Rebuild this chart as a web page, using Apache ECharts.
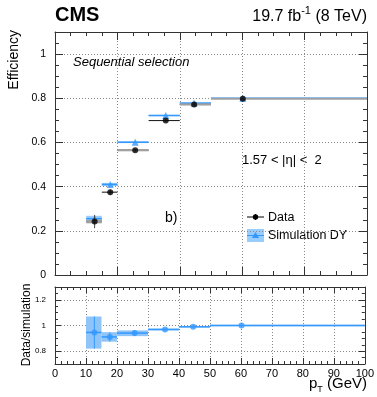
<!DOCTYPE html>
<html><head><meta charset="utf-8">
<script src="https://cdn.jsdelivr.net/npm/echarts@6/dist/echarts.min.js"></script>
<style>html,body{margin:0;padding:0;background:#fff}#c{width:377px;height:397px}</style>
</head><body><div id="c"></div>
<script>
// ---- data ----
const binLo = [10, 15, 20, 30, 40, 50];
const binHi = [15, 20, 30, 40, 50, 100];
const ptX = [12.7, 17.7, 25.7, 35.5, 44.6, 60.2];
const dataEff = [0.242, 0.375, 0.565, 0.699, 0.772, 0.798];
const dataErr = [0.03, 0.012, 0.006, 0.005, 0.004, 0.003];
const dataBand = [0.008, 0, 0.005, 0, 0.005, 0.004];
const simEff = [0.255, 0.410, 0.601, 0.722, 0.778, 0.800];
const simBand = [0.013, 0.007, 0.004, 0.003, 0.003, 0.002];
const ratio = [0.946, 0.911, 0.941, 0.969, 0.990, 1.000];
const ratioLo = [0.820, 0.874, 0.917, 0.962, 0.984, 0.994];
const ratioHi = [1.070, 0.948, 0.962, 0.976, 0.996, 1.006];
const ratioTicks = [0.8, 1.0, 1.2];

const FONT = '"Liberation Sans", Arial, Helvetica, sans-serif';
const BLUE = '#3399ff';
const LIGHT = '#99ccff';
const RATIO_BAND = '#8ec4f8';
const AX = '#333';
const GRIDC = '#888';

function rectSeries(rows, xi, yi, color, z) {
  return {
    type: 'custom', xAxisIndex: xi, yAxisIndex: yi, z: z, silent: true,
    encode: { x: [0, 1], y: [2, 3] }, data: rows,
    renderItem: function (params, api) {
      const p1 = api.coord([api.value(0), api.value(3)]);
      const p2 = api.coord([api.value(1), api.value(2)]);
      return { type: 'rect', shape: { x: p1[0], y: p1[1], width: p2[0] - p1[0], height: Math.max(p2[1] - p1[1], 0) },
        style: { fill: color } };
    }
  };
}
function segSeries(rows, xi, yi, color, width, z) {
  return {
    type: 'custom', xAxisIndex: xi, yAxisIndex: yi, z: z, silent: true,
    encode: { x: [0, 2], y: [1, 3] }, data: rows,
    renderItem: function (params, api) {
      const p1 = api.coord([api.value(0), api.value(1)]);
      const p2 = api.coord([api.value(2), api.value(3)]);
      return { type: 'line', shape: { x1: p1[0], y1: p1[1], x2: p2[0], y2: p2[1] },
        style: { stroke: color, lineWidth: width } };
    }
  };
}

const idx = binLo.map((_, i) => i);
const series = [
  // top panel: simulation first, data on top
  rectSeries(idx.map(i => [binLo[i], binHi[i], simEff[i] - simBand[i], simEff[i] + simBand[i]]), 0, 0, LIGHT, 2),
  segSeries(idx.map(i => [binLo[i], simEff[i], binHi[i], simEff[i]]), 0, 0, BLUE, 1.5, 3),
  { type: 'scatter', xAxisIndex: 0, yAxisIndex: 0, z: 4, silent: true, symbol: 'triangle', symbolSize: 7,
    itemStyle: { color: BLUE }, data: idx.map(i => [ptX[i], simEff[i]]) },
  segSeries(idx.map(i => [binLo[i], dataEff[i], binHi[i], dataEff[i]]), 0, 0, '#111', 1, 5),
  rectSeries(idx.map(i => [binLo[i], binHi[i], dataEff[i] - dataBand[i], dataEff[i] + dataBand[i]]), 0, 0, '#a0a0a0', 6),
  segSeries(idx.map(i => [ptX[i], dataEff[i] - dataErr[i], ptX[i], dataEff[i] + dataErr[i]]), 0, 0, '#444', 1, 7),
  { type: 'scatter', xAxisIndex: 0, yAxisIndex: 0, z: 8, silent: true, symbol: 'circle', symbolSize: 6,
    itemStyle: { color: '#000' }, data: idx.map(i => [ptX[i], dataEff[i]]) },
  // ratio panel
  rectSeries(idx.map(i => [binLo[i], binHi[i], ratioLo[i], ratioHi[i]]), 2, 4, RATIO_BAND, 2),
  segSeries(idx.map(i => [binLo[i], ratio[i], binHi[i], ratio[i]]), 2, 4, BLUE, 1.5, 3),
  segSeries(idx.map(i => [ptX[i], ratioLo[i], ptX[i], ratioHi[i]]), 2, 4, BLUE, 1, 3),
  { type: 'scatter', xAxisIndex: 2, yAxisIndex: 4, z: 5, silent: true, symbol: 'circle', symbolSize: 6,
    itemStyle: { color: BLUE }, data: idx.map(i => [ptX[i], ratio[i]]) }
];

function xAx(grid, pos, interval, minorSplit, showLabel, split, tickLen) {
  return {
    type: 'value', gridIndex: grid, position: pos, min: 0, max: 100, interval: interval,
    axisLine: { show: true, onZero: false, lineStyle: { color: AX, width: 1 } },
    axisTick: { show: true, inside: true, length: tickLen, lineStyle: { color: AX } },
    minorTick: { show: true, splitNumber: minorSplit, length: tickLen / 2, lineStyle: { color: AX } },
    axisLabel: { show: showLabel, fontFamily: FONT, fontSize: 11, color: '#000', margin: 4 },
    splitLine: { show: split, lineStyle: { color: GRIDC, type: [1, 2], width: 1 } }
  };
}
function yMajor(grid, pos, min, max, interval, labels, split, tickLen, fs, custom) {
  const a = {
    type: 'value', gridIndex: grid, position: pos, min: min, max: max, interval: interval,
    axisLine: { show: true, onZero: false, lineStyle: { color: AX, width: 1 } },
    axisTick: { show: true, inside: true, length: tickLen, lineStyle: { color: AX } },
    axisLabel: { show: labels, fontFamily: FONT, fontSize: fs, color: '#000', margin: 9, showMaxLabel: false,
      formatter: v => String(Math.round(v * 10) / 10) },
    splitLine: { show: split, lineStyle: { color: GRIDC, type: [1, 2], width: 1 } }
  };
  if (custom) {
    a.axisTick.customValues = custom;
    a.axisLabel.customValues = custom;
    a.axisLabel.showMaxLabel = true;
  }
  return a;
}
function yMinor(grid, pos, min, max, interval, tickLen) {
  return {
    type: 'value', gridIndex: grid, position: pos, min: min, max: max, interval: interval,
    axisLine: { show: false, onZero: false },
    axisTick: { show: true, inside: true, length: tickLen, lineStyle: { color: AX } },
    axisLabel: { show: false }, splitLine: { show: false }
  };
}

const option = {
  animation: false,
  backgroundColor: '#fff',
  grid: [
    { left: 55, right: 10, top: 32, height: 243, containLabel: false },
    { left: 55, right: 10, top: 287, height: 77, containLabel: false }
  ],
  xAxis: [
    xAx(0, 'bottom', 20, 4, false, true, 8),
    xAx(0, 'top', 20, 4, false, false, 8),
    xAx(1, 'bottom', 10, 5, true, true, 6),
    xAx(1, 'top', 10, 5, false, false, 6)
  ],
  yAxis: [
    yMajor(0, 'left', 0, 1.1, 0.2, true, true, 8, 10.5),
    yMinor(0, 'left', 0, 1.1, 0.05, 4),
    yMajor(0, 'right', 0, 1.1, 0.2, false, false, 8, 10.5),
    yMinor(0, 'right', 0, 1.1, 0.05, 4),
    yMajor(1, 'left', 0.7, 1.3, 0.1, true, true, 6, 8, ratioTicks),
    yMinor(1, 'left', 0.7, 1.3, 0.05, 3),
    yMajor(1, 'right', 0.7, 1.3, 0.1, false, false, 6, 8, ratioTicks),
    yMinor(1, 'right', 0.7, 1.3, 0.05, 3)
  ],
  series: series,
  graphic: [
    { type: 'text', x: 55, y: 15, style: { text: 'CMS', font: 'bold 20px ' + FONT, fill: '#000',
      align: 'left', verticalAlign: 'middle', textAlign: 'left', textVerticalAlign: 'middle' } },
    { type: 'text', x: 367, y: 15, style: { text: '{a|19.7 fb}{s|-1}{a| (8 TeV)}',
      rich: { a: { fontFamily: FONT, fontSize: 16, fill: '#000', verticalAlign: 'bottom', lineHeight: 20 },
              s: { fontFamily: FONT, fontSize: 11, fill: '#000', verticalAlign: 'top', lineHeight: 12 } },
      align: 'right', verticalAlign: 'middle', textAlign: 'right', textVerticalAlign: 'middle' } },
    { type: 'text', x: 14, y: 30, rotation: Math.PI / 2, style: { text: 'Efficiency', font: '14px ' + FONT, fill: '#000',
      align: 'right', verticalAlign: 'middle', textAlign: 'right', textVerticalAlign: 'middle' } },
    { type: 'text', x: 27, y: 325, rotation: Math.PI / 2, style: { text: 'Data/simulation', font: '12px ' + FONT, fill: '#000',
      align: 'center', verticalAlign: 'middle', textAlign: 'center', textVerticalAlign: 'middle' } },
    { type: 'text', x: 367, y: 385, style: { text: '{a|p}{s|T}{a| (GeV)}',
      rich: { a: { fontFamily: FONT, fontSize: 15, fill: '#000', verticalAlign: 'top', lineHeight: 18 },
              s: { fontFamily: FONT, fontSize: 9, fill: '#000', verticalAlign: 'bottom', lineHeight: 10 } },
      align: 'right', verticalAlign: 'middle', textAlign: 'right', textVerticalAlign: 'middle' } },
    { type: 'text', x: 73, y: 62, style: { text: 'Sequential selection', font: 'italic 13px ' + FONT, fill: '#000',
      align: 'left', verticalAlign: 'middle', textAlign: 'left', textVerticalAlign: 'middle' } },
    { type: 'text', x: 242, y: 160, style: { text: '1.57 < |η| <  2', font: '13px ' + FONT, fill: '#000',
      align: 'left', verticalAlign: 'middle', textAlign: 'left', textVerticalAlign: 'middle' } },
    { type: 'text', x: 165, y: 218, style: { text: 'b)', font: '14px ' + FONT, fill: '#000',
      align: 'left', verticalAlign: 'middle', textAlign: 'left', textVerticalAlign: 'middle' } },
    // legend
    { type: 'line', shape: { x1: 247, y1: 217, x2: 264, y2: 217 }, style: { stroke: '#000', lineWidth: 1 } },
    { type: 'line', shape: { x1: 255.5, y1: 214, x2: 255.5, y2: 220 }, style: { stroke: '#000', lineWidth: 1 } },
    { type: 'circle', shape: { cx: 255.5, cy: 217, r: 2.7 }, style: { fill: '#000' } },
    { type: 'text', x: 268, y: 217.5, style: { text: 'Data', font: '12.5px ' + FONT, fill: '#000',
      align: 'left', verticalAlign: 'middle', textAlign: 'left', textVerticalAlign: 'middle' } },
    { type: 'rect', shape: { x: 247, y: 229, width: 17, height: 13 }, style: { fill: LIGHT } },
    { type: 'line', shape: { x1: 247, y1: 235.5, x2: 264, y2: 235.5 }, style: { stroke: BLUE, lineWidth: 1 } },
    { type: 'polygon', shape: { points: [[255.5, 232], [259, 238], [252, 238]] }, style: { fill: BLUE } },
    { type: 'text', x: 268, y: 235.5, style: { text: 'Simulation DY', font: '12.5px ' + FONT, fill: '#000',
      align: 'left', verticalAlign: 'middle', textAlign: 'left', textVerticalAlign: 'middle' } }
  ]
};
const chart = echarts.init(document.getElementById('c'));
chart.setOption(option);
</script>
</body></html>
